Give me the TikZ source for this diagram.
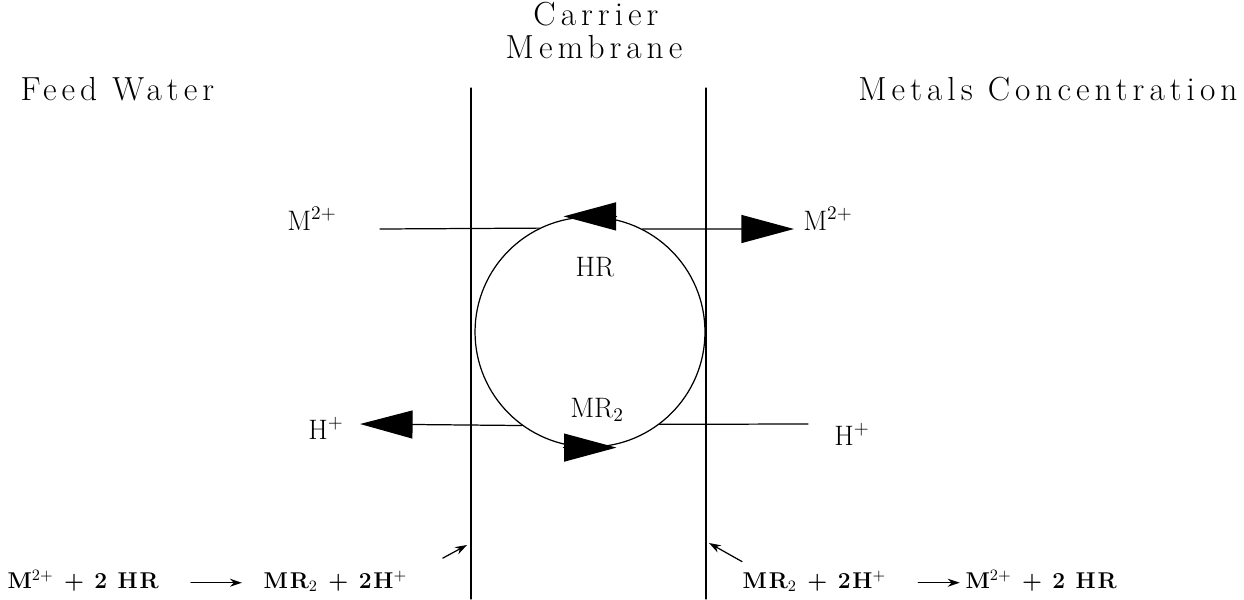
\documentclass[tikz,border=0pt]{standalone}
\usepackage{fontspec}
\setmainfont{Latin Modern Roman}
\usetikzlibrary{arrows.meta}

\begin{document}
\begin{tikzpicture}[x=0.02cm, y=-0.02cm, line cap=round, line width=0.7pt,
	big/.style={-{Triangle[length=1.05cm,width=0.56cm]}},
	small/.style={-{Stealth[length=2.4mm,width=1.6mm]}},
	heading/.style={font=\fontsize{19}{22}\selectfont\addfontfeature{LetterSpace=15}, inner sep=0pt},
	chem/.style={font=\fontsize{16}{19}\selectfont, inner sep=0pt},
	eqn/.style={font=\bfseries\fontsize{13}{15}\selectfont\addfontfeature{LetterSpace=8}, inner sep=0pt, anchor=base west}]
	\useasboundingbox (0,0) rectangle (1244,599);
	% -------- Tunables --------
	\def\wallL{471}     % feed side of the membrane
	\def\wallR{706}     % strip side of the membrane
	\def\wtop{88}       % upper end of the walls
	
	% Headings
	\node[heading, anchor=base] (carrier)  at (596,25) {Carrier};
	\node[heading, anchor=base] (membrane) at (594,58) {Membrane};
	\node[heading, anchor=base west] (feed)   at (20,100)  {Feed Water};
	\node[heading, anchor=base east] (strip)  at (1238,100) {Metals Concentration};
	
	% Membrane walls
	\coordinate (wlT) at (\wallL,\wtop);
	\coordinate (wlB) at (\wallL,599);
	\coordinate (wrT) at (\wallR,\wtop);
	\coordinate (wrB) at (\wallR,599);
	\draw (wlT) -- (wlB);
	\draw (wrT) -- (wrB);
	
	% Carrier cycle
	\node[draw, circle, minimum size=4.6cm, inner sep=0pt] (loop) at (590,332) {};
	\draw[big] ([xshift=0.53cm]loop.north) -- ([xshift=-0.53cm]loop.north);
	\draw[big] ([xshift=-0.53cm]loop.south) -- ([xshift=0.53cm]loop.south);
	\node[chem] (hr)  at (595,267) {HR};
	\node[chem] (mr2) at (597,410) {MR$_2$};
	
	% Metal ion transport (top)
	\node[chem] (mfeed)  at (312,219) {M$^{2+}$};
	\node[chem] (mstrip) at (828,219) {M$^{2+}$};
	\coordinate (mstart) at (380,229);
	\draw (mstart) -- (loop.116.4);
	\draw[big] (loop.63.6) -- ([xshift=-5pt]mstrip.west |- mstart);
	
	% Proton transport (bottom)
	\node[chem] (hfeed)  at (326,428) {H$^{+}$};
	\node[chem] (hstrip) at (852,434) {H$^{+}$};
	\coordinate (hend) at (808,424);
	\draw[big] (loop.-126.9) -- ([xshift=9pt]hfeed.east |- hend);
	\draw (loop.-53.1) -- (hend);
	
	% Interface reactions
	\node[eqn] (reacL) at (7,588)   {M$^{2+}$ + 2 HR};
	\node[eqn] (prodL) at (263,588) {MR$_2$ + 2H$^{+}$};
	\draw[small] ([xshift=18pt,yshift=3pt]reacL.base east) -- ([xshift=-12pt,yshift=3pt]prodL.base west);
	\draw[small] ([xshift=20pt,yshift=17pt]prodL.base east) -- (\wallL-4,545);
	
	\node[eqn] (prodR) at (742,588) {MR$_2$ + 2H$^{+}$};
	\node[eqn] (reacR) at (965,588) {M$^{2+}$ + 2 HR};
	\draw[small] ([xshift=18pt,yshift=3pt]prodR.base east) -- ([xshift=-3pt,yshift=3pt]reacR.base west);
	\draw[small] ([yshift=5pt]prodR.north west) -- (\wallR+3,543);
\end{tikzpicture}
\end{document}
